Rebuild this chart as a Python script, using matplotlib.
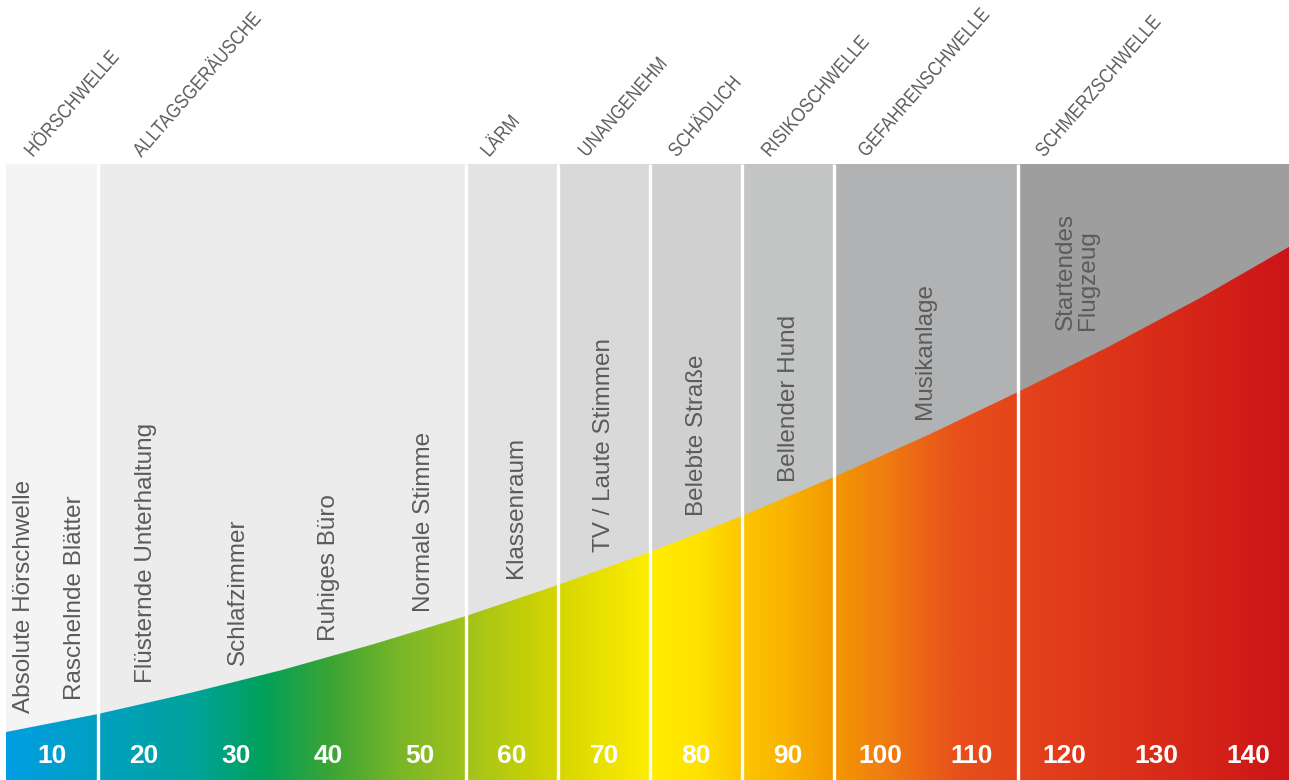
import numpy as np
import matplotlib.pyplot as plt
from matplotlib.colors import LinearSegmentedColormap
from matplotlib.patches import Polygon, PathPatch
from matplotlib.textpath import TextPath
from matplotlib.font_manager import FontProperties
from matplotlib.transforms import Affine2D, IdentityTransform

# dB scale, one column per 10 dB
levels = [10, 20, 30, 40, 50, 60, 70, 80, 90, 100, 110, 120, 130, 140]
edges = [5, 15, 25, 35, 45, 55, 65, 75, 85, 95, 105, 115, 125, 135, 145]
# height of the coloured curve at each column edge (px above bottom)
curve = [48, 66, 87, 110, 136, 164, 195, 228, 264, 303, 344, 388, 434, 483, 536]

groups = ["HÖRSCHWELLE", "ALLTAGSGERÄUSCHE", "LÄRM", "UNANGENEHM", "SCHÄDLICH",
          "RISIKOSCHWELLE", "GEFAHRENSCHWELLE", "SCHMERZSCHWELLE"]
group_edges = [5, 15, 55, 65, 75, 85, 95, 115, 145]
group_grays = ["#f4f4f4", "#ececec", "#e3e3e3", "#d9d9d9", "#cfd0cf",
               "#c3c4c4", "#b1b2b3", "#9d9e9d"]
group_label_x = [7.9, 19.7, 57.5, 68.1, 77.9, 88.0, 98.5, 117.8]

examples = ["Absolute Hörschwelle", "Raschelnde Blätter", "Flüsternde Unterhaltung",
            "Schlafzimmer", "Ruhiges Büro", "Normale Stimme", "Klassenraum",
            "TV / Laute Stimmen", "Belebte Straße", "Bellender Hund", "Musikanlage",
            "Startendes\nFlugzeug"]
example_x = [7.0, 12.5, 20.2, 30.2, 40.1, 50.4, 60.4, 70.0, 80.1, 90.1, 104.9, 121.4]
example_y = [67, 80, 97, 115, 139, 168, 202, 228, 264, 298, 361, 450]

# colour stops of the gradient (dB position, colour)
stop_db = [5, 15, 25, 32.6, 40.2, 47.8, 55, 65, 70, 75, 80.4, 85, 90.2, 95,
           100, 108.7, 115, 129.3, 145]
stop_col = ["#009ee2", "#00a0c0", "#00a39c", "#00a05c", "#3ca535", "#7ab628",
            "#a2c31a", "#d6d600", "#eae200", "#ffed00", "#ffe200", "#fcc600",
            "#f9b200", "#f39800", "#f08010", "#e8501b", "#e4441b", "#da2e19",
            "#cc1417"]

panel_top = 616
px = 9.2  # pixels per dB

fig = plt.figure(figsize=(12.89, 7.8), dpi=100)
ax = fig.add_axes([0, 0, 1, 1])
ax.set_xlim(5 - 6 / px, 5 + 1283 / px)
ax.set_ylim(0, 780)
ax.axis("off")

# grey category panels
for i in range(len(groups)):
    ax.bar(group_edges[i], panel_top, width=group_edges[i + 1] - group_edges[i],
           align="edge", color=group_grays[i], linewidth=0, zorder=1)

# coloured gradient under the curve
pos = [(d - stop_db[0]) / (stop_db[-1] - stop_db[0]) for d in stop_db]
cmap = LinearSegmentedColormap.from_list("db", list(zip(pos, stop_col)))
grad = np.linspace(0, 1, 1400).reshape(1, -1)
im = ax.imshow(grad, extent=[edges[0], edges[-1], 0, panel_top], aspect="auto",
               cmap=cmap, origin="lower", zorder=2, interpolation="bilinear")
verts = list(zip(edges, curve)) + [(edges[-1], 0), (edges[0], 0)]
clip = Polygon(verts, closed=True, transform=ax.transData)
im.set_clip_path(clip)

# white separators
ax.vlines(group_edges[1:-1], 0, panel_top, color="white", lw=2.4, zorder=3)

# dB numbers
for lv in levels:
    ax.text(lv, 24, str(lv), ha="center", va="center", color="white",
            fontsize=19, fontweight="bold", family="Liberation Sans", zorder=4)

# example sounds
for t, x, y in zip(examples, example_x, example_y):
    ax.text(x, y, t, rotation=90, ha="center", va="bottom", multialignment="left",
            color="#5b5b5b", fontsize=17.5, family="Liberation Sans",
            linespacing=1.0, zorder=4)

# category headers: condensed, slanted text drawn as paths
fp = FontProperties(family="Liberation Sans")
for t, x in zip(groups, group_label_x):
    path = TextPath((0, 0), t, size=20, prop=fp)
    x0, y0 = ax.transData.transform((x, 622))
    tr = Affine2D().scale(0.86, 1.0).rotate_deg(49).translate(x0, y0)
    ax.add_artist(PathPatch(path, transform=tr + IdentityTransform(),
                            facecolor="#626262", edgecolor="none", zorder=4))

fig.savefig("out.png", dpi=100)
